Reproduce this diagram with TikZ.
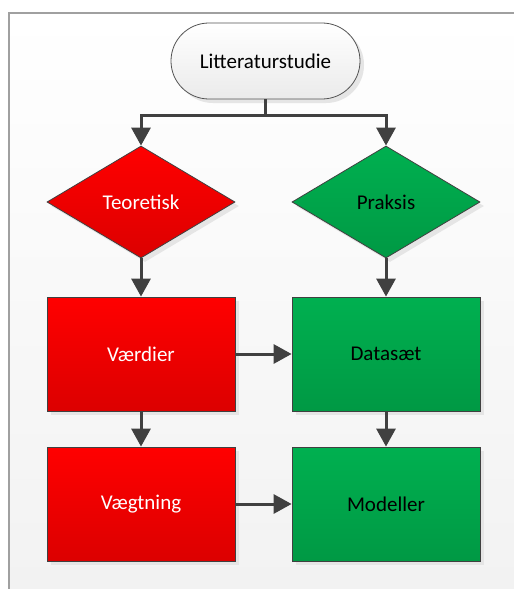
\documentclass[tikz,border=0pt]{standalone}
\usepackage{fontspec}
\setmainfont{Carlito}
\usetikzlibrary{shapes.geometric,arrows.meta,shadows}

\definecolor{edgegray}{HTML}{404040}
\definecolor{framegray}{HTML}{A0A0A0}
\definecolor{redtop}{HTML}{FF0000}
\definecolor{redbot}{HTML}{DC0000}
\definecolor{greentop}{HTML}{00B050}
\definecolor{greenbot}{HTML}{009944}
\definecolor{panelbot}{HTML}{F2F2F2}

\tikzset{
  shade/.style={drop shadow={shadow xshift=4pt,shadow yshift=-4pt,fill=black!10,opacity=1}},
  base/.style={draw=edgegray,line width=0.8pt,inner sep=0pt,font=\fontsize{21}{25}\selectfont,shade},
  redfill/.style={top color=redtop,bottom color=redbot,text=white},
  greenfill/.style={top color=greentop,bottom color=greenbot,text=black},
  decision/.style={base,diamond,minimum width=188pt,minimum height=112pt},
  process/.style={base,rectangle,minimum width=188pt,minimum height=114pt},
  terminal/.style={base,draw=edgegray!90,rectangle,rounded corners=37.9pt,
    minimum width=189pt,minimum height=76pt,top color=white,bottom color=black!8},
  flow/.style={draw=edgegray,line width=3pt,-{Triangle[length=18pt,width=19pt]}},
}

\begin{document}
\begin{tikzpicture}[x=1pt,y=-1pt]
  \useasboundingbox (0,0) rectangle (514,589);
  % panel with a soft vertical gradient
  \shade[top color=white,bottom color=panelbot] (9,13) rectangle (514,589);
  \draw[framegray,line width=1.5pt] (9,589) |- (514,13);

  \node[terminal] (lit) at (265.5,61) {Litteraturstudie};

  \node[decision,redfill] (teo) at (141,202) {Teoretisk};
  \node[decision,greenfill] (pra) at (386,202) {Praksis};

  \node[process,redfill] (vaer) at (141,354) {Værdier};
  \node[process,greenfill] (data) at (386,354) {Datasæt};

  \node[process,redfill] (vaeg) at (141,504) {Vægtning};
  \node[process,greenfill] (mod) at (386,504) {Modeller};

  \coordinate (split) at ([yshift=-16pt]lit.south);
  \draw[draw=edgegray,line width=3pt] (lit.south) -- (split);
  \draw[flow] (split) -| (teo.north);
  \draw[flow] (split) -| (pra.north);

  \draw[flow] (teo.south) -- (vaer.north);
  \draw[flow] (pra.south) -- (data.north);
  \draw[flow] (vaer.east) -- (data.west);
  \draw[flow] (vaer.south) -- (vaeg.north);
  \draw[flow] (data.south) -- (mod.north);
  \draw[flow] (vaeg.east) -- (mod.west);
\end{tikzpicture}
\end{document}
